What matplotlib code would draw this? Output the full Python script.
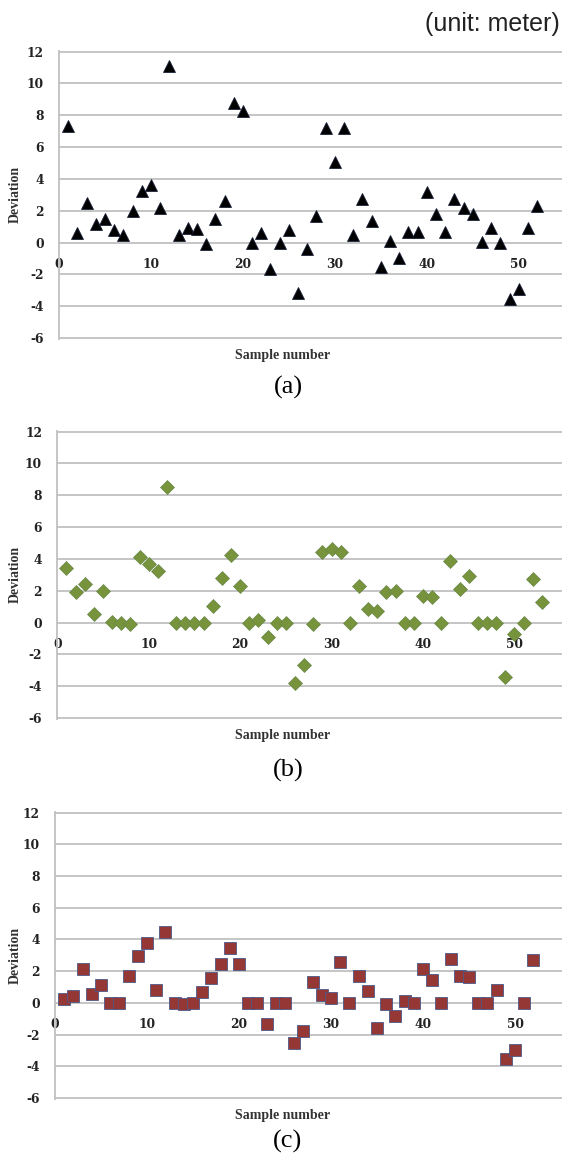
import numpy as np
import matplotlib
matplotlib.use('Agg')
import matplotlib.pyplot as plt

plt.rcParams['axes.unicode_minus'] = False

# Desviacions (m) per mostra, llegides de la figura
dev_a = [7.3, 0.6, 2.5, 1.15, 1.5, 0.8, 0.5, 2.0, 3.25, 3.6,
         2.2, 11.1, 0.45, 0.9, 0.85, -0.1, 1.5, 2.6, 8.8, 8.25,
         0.0, 0.6, -1.65, 0.0, 0.8, -3.15, -0.4, 1.65, 7.2, 5.05,
         7.2, 0.5, 2.75, 1.35, -1.55, 0.1, -0.95, 0.65, 0.65, 3.15,
         1.8, 0.65, 2.75, 2.2, 1.8, 0.05, 0.9, 0.0, -3.55, -2.9,
         0.9, 2.3]
dev_b = [3.45, 1.95, 2.45, 0.55, 2.0, 0.05, 0.0, -0.1, 4.15, 3.7,
         3.25, 8.5, 0.0, 0.0, 0.0, -0.05, 1.05, 2.8, 4.25, 2.3,
         0.0, 0.15, -0.9, 0.0, 0.0, -3.8, -2.65, -0.1, 4.45, 4.65,
         4.45, 0.0, 2.3, 0.85, 0.75, 1.95, 2.0, 0.0, 0.0, 1.7,
         1.6, -0.05, 3.85, 2.1, 2.9, 0.0, 0.0, 0.0, -3.45, -0.7,
         0.0, 2.75, 1.3]
dev_c = [0.25, 0.45, 2.15, 0.55, 1.15, 0.0, 0.0, 1.7, 2.95, 3.8,
         0.8, 4.5, 0.0, -0.05, 0.0, 0.7, 1.6, 2.45, 3.45, 2.45,
         0.0, 0.0, -1.3, 0.0, 0.0, -2.5, -1.8, 1.3, 0.5, 0.3,
         2.6, 0.0, 1.7, 0.75, -1.6, -0.05, -0.8, 0.15, 0.0, 2.15,
         1.45, 0.0, 2.75, 1.7, 1.65, 0.0, 0.0, 0.8, -3.55, -2.95,
         0.0, 2.7]

yticks = list(range(-6, 13, 2))
xticks = [0, 10, 20, 30, 40, 50]
panel_labels = ['(a)', '(b)', '(c)']

W, H = 562, 1158
fig = plt.figure(figsize=(W / 100, H / 100), dpi=100)

grid_col = '#c0c0c0'

def make_axes(left, top, bottom, xmax):
    ax = fig.add_axes([left / W, 1 - bottom / H, (W - left) / W, (bottom - top) / H])
    ax.set_xlim(0, xmax)
    ax.set_ylim(-6.06, 12.06)
    ax.set_yticks(yticks)
    ax.set_xticks(xticks)
    ax.grid(axis='y', color=grid_col, linewidth=1.3)
    ax.set_axisbelow(True)
    for s in ['top', 'right']:
        ax.spines[s].set_visible(False)
    ax.spines['bottom'].set_position(('data', 0))
    ax.spines['bottom'].set_visible(False)
    ax.spines['left'].set_color(grid_col)
    ax.spines['left'].set_linewidth(1.3)
    ax.tick_params(axis='both', length=0, labelsize=8.8, colors='#222222')
    ax.tick_params(axis='y', pad=11)
    ax.tick_params(axis='x', pad=11)
    for lab in ax.get_xticklabels() + ax.get_yticklabels():
        lab.set_family('DejaVu Serif')
        lab.set_fontweight('bold')
    return ax

# (left px, top px, bottom px, xmax)
layout = [(59, 50.7, 339, 54.7), (57.3, 430.7, 719, 55.2), (55, 811.7, 1099, 55.1)]
series = [dev_a, dev_b, dev_c]
styles = [
    dict(marker='^', ms=9.2, mfc='black', mec='#1a2238', mew=0.6),
    dict(marker='D', ms=6.8, mfc='#77933c', mec='#6a8a4a', mew=0.5),
    dict(marker='s', ms=9.0, mfc='#953735', mec='#4a5a8a', mew=0.6),
]
label_y = [(355, 387), (735, 770), (1115, 1141)]

for (left, top, bottom, xmax), vals, st, lab, (ly, py) in zip(layout, series, styles, panel_labels, label_y):
    ax = make_axes(left, top, bottom, xmax)
    x = np.arange(1, len(vals) + 1)
    ax.plot(x, vals, linestyle='none', clip_on=False, zorder=3, **st)
    fig.text(15 / W, 1 - (top + bottom) / 2 / H, 'Deviation', rotation=90,
             ha='center', va='center', family='Liberation Serif',
             fontweight='bold', fontsize=10, color='#333333')
    fig.text(283 / W, 1 - ly / H, 'Sample number', ha='center', va='center',
             family='Liberation Serif', fontweight='bold', fontsize=10, color='#333333')
    fig.text(288 / W, 1 - py / H, lab, ha='center', va='center',
             family='Liberation Serif', fontsize=19, color='black')

fig.text(560 / W, 1 - 24 / H, '(unit: meter)', ha='right', va='center',
         family='Liberation Sans', fontsize=18, color='#222222')

fig.savefig('out.png', dpi=100)
